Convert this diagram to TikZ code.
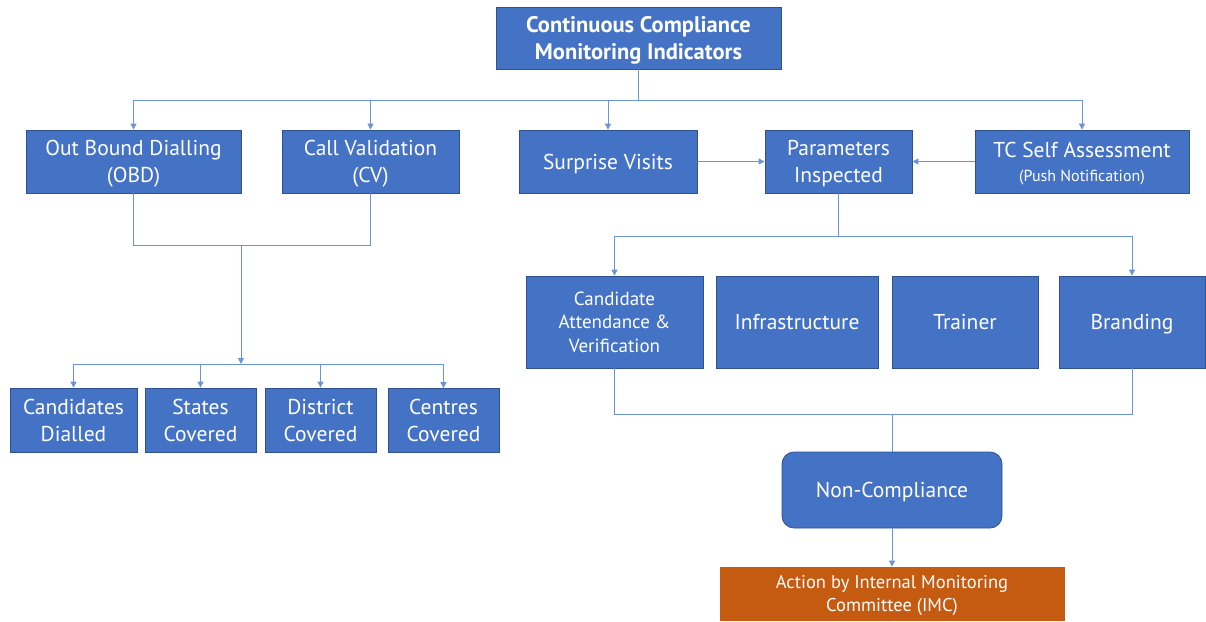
\documentclass[tikz,border=0pt]{standalone}
\usepackage{fontspec}
\setmainfont{PT Sans}
\usetikzlibrary{arrows.meta}
\definecolor{boxblue}{HTML}{4472C4}
\definecolor{boxedge}{HTML}{2F528F}
\definecolor{linkblue}{HTML}{6A93D8}
\definecolor{imcorange}{HTML}{C55A11}
\begin{document}
\begin{tikzpicture}[x=1pt,y=-1pt,
  box/.style={draw=boxedge, line width=0.8pt, fill=boxblue, text=white, align=center, inner sep=2pt, text depth=-3.5pt, font=\fontsize{21.5}{27}\selectfont},
  smallbox/.style={box, font=\fontsize{19}{23.5}\selectfont},
  link/.style={draw=linkblue, line width=0.9pt},
  arr/.style={link, -{Triangle[length=6pt,width=6pt]}}]
\fill[white] (0,0) rectangle (1206,621);
\useasboundingbox (0,0) rectangle (1206,621);

% top
\node[box, minimum width=285, minimum height=62, font=\bfseries\fontsize{22.5}{27}\selectfont] (top) at (638.5,38) {Continuous Compliance\\Monitoring Indicators};

% row 1
\node[box, minimum width=215, minimum height=63] (obd) at (133.5,161.5) {Out Bound Dialling\\(OBD)};
\node[box, minimum width=177, minimum height=63] (cv) at (370.5,161.5) {Call Validation\\(CV)};
\node[box, minimum width=178, minimum height=63] (sv) at (608,161.5) {Surprise Visits};
\node[box, minimum width=147, minimum height=63] (pi) at (838.5,161.5) {Parameters\\Inspected};
\node[box, minimum width=214, minimum height=63, font=\fontsize{21.5}{24}\selectfont] (tc) at (1082,161.5) {TC Self Assessment\\{\fontsize{16}{18}\selectfont (Push Notification)}};

% left bottom row
\node[box, minimum width=127, minimum height=64] (cand) at (73.5,420) {Candidates\\Dialled};
\node[box, minimum width=111, minimum height=64] (states) at (200.5,420) {States\\Covered};
\node[box, minimum width=111, minimum height=64] (dist) at (320.5,420) {District\\Covered};
\node[box, minimum width=111, minimum height=64] (cent) at (443.5,420.5) {Centres\\Covered};

% right parameter row
\node[smallbox, minimum width=177, minimum height=92] (cav) at (614.5,322) {Candidate\\Attendance \&\\Verification};
\node[box, minimum width=162, minimum height=92] (infra) at (797,322) {Infrastructure};
\node[box, minimum width=146, minimum height=92] (trainer) at (965,322) {Trainer};
\node[box, minimum width=146, minimum height=92] (brand) at (1132,322) {Branding};

% non-compliance and action
\node[box, rounded corners=12pt, minimum width=220, minimum height=76] (nc) at (892,490) {Non-Compliance};
\node[smallbox, draw=imcorange, fill=imcorange, minimum width=344, minimum height=53, font=\fontsize{18.5}{23}\selectfont] (imc) at (892,593.5) {Action by Internal Monitoring\\Committee (IMC)};

% connectors
\coordinate (busA) at (638.5,100);
\draw[link] (top.south) -- (busA);
\draw[arr] (busA) -| (obd.north);
\draw[arr] (busA) -| (cv.north);
\draw[arr] (busA) -| (sv.north);
\draw[arr] (busA) -| (tc.north);
\draw[arr] (sv.east) -- (pi.west);
\draw[arr] (tc.west) -- (pi.east);

\coordinate (busB) at (241,245);
\coordinate (busC) at (241,364);
\draw[link] (obd.south) |- (busB);
\draw[link] (cv.south) |- (busB);
\draw[arr] (busB) -- (busC);
\draw[arr] (busC) -| (cand.north);
\draw[arr] (busC) -| (states.north);
\draw[arr] (busC) -| (dist.north);
\draw[arr] (busC) -| (cent.north);

\coordinate (busD) at (838.5,236);
\draw[link] (pi.south) -- (busD);
\draw[arr] (busD) -| (cav.north);
\draw[arr] (busD) -| (brand.north);

\coordinate (busE) at (892,414);
\draw[link] (cav.south) |- (busE);
\draw[link] (brand.south) |- (busE);
\draw[link] (busE) -- (nc.north);
\draw[arr] (nc.south) -- (imc.north);
\end{tikzpicture}
\end{document}
